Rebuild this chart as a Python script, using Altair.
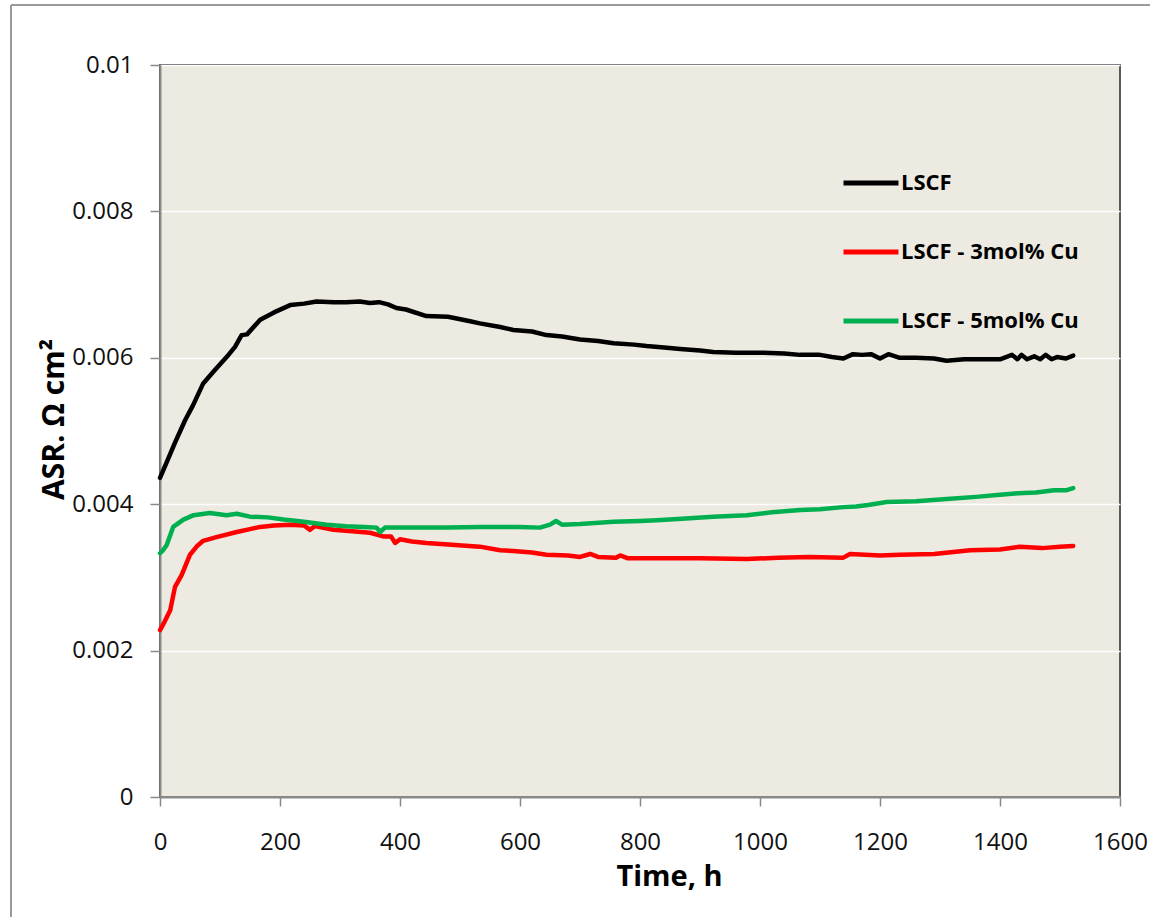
import altair as alt
import pandas as pd

# ---- data ----
series_names = ["LSCF", "LSCF - 3mol% Cu", "LSCF - 5mol% Cu"]
series_colors = ["#000000", "#FF0000", "#00B050"]

t_lscf = [0, 10, 25, 42, 55, 72, 90, 111, 125, 136, 145, 167, 190, 217, 240, 261, 290, 310,
          333, 350, 365, 380, 394, 410, 444, 480, 517, 533, 567, 589, 620, 644, 670, 700, 730,
          756, 790, 811, 840, 867, 900, 922, 960, 1006, 1040, 1067, 1100, 1120, 1139, 1155,
          1170, 1185, 1200, 1214, 1233, 1260, 1290, 1311, 1340, 1370, 1400, 1420, 1429, 1436,
          1445, 1457, 1467, 1476, 1486, 1495, 1510, 1522]
asr_lscf = [4.36, 4.55, 4.84, 5.15, 5.35, 5.65, 5.82, 6.01, 6.15, 6.31, 6.32, 6.52, 6.62, 6.72,
            6.74, 6.77, 6.76, 6.76, 6.77, 6.75, 6.76, 6.73, 6.68, 6.66, 6.57, 6.56, 6.50, 6.47,
            6.42, 6.38, 6.36, 6.31, 6.29, 6.25, 6.23, 6.20, 6.18, 6.16, 6.14, 6.12, 6.10, 6.08,
            6.07, 6.07, 6.06, 6.04, 6.04, 6.01, 5.99, 6.05, 6.04, 6.05, 5.99, 6.05, 6.00, 6.00,
            5.99, 5.96, 5.98, 5.98, 5.98, 6.04, 5.98, 6.04, 5.98, 6.02, 5.98, 6.04, 5.98, 6.01,
            5.99, 6.03]

t_cu3 = [0, 8, 17, 25, 36, 50, 62, 72, 94, 128, 150, 167, 190, 217, 240, 250, 258, 289, 320,
         350, 372, 385, 392, 400, 420, 444, 480, 533, 567, 589, 620, 644, 680, 700, 717, 730,
         760, 767, 780, 839, 900, 978, 1030, 1083, 1139, 1150, 1200, 1233, 1290, 1350, 1400,
         1433, 1470, 1500, 1522]
asr_cu3 = [2.28, 2.40, 2.55, 2.87, 3.03, 3.31, 3.43, 3.50, 3.55, 3.62, 3.66, 3.69, 3.71, 3.72,
           3.71, 3.65, 3.70, 3.65, 3.63, 3.61, 3.56, 3.56, 3.47, 3.52, 3.49, 3.47, 3.45, 3.42,
           3.37, 3.36, 3.34, 3.31, 3.30, 3.28, 3.32, 3.28, 3.27, 3.30, 3.26, 3.26, 3.26, 3.25,
           3.27, 3.28, 3.27, 3.32, 3.30, 3.31, 3.32, 3.37, 3.38, 3.42, 3.40, 3.42, 3.43]

t_cu5 = [0, 5, 11, 22, 39, 56, 83, 111, 128, 150, 180, 206, 240, 278, 310, 340, 361, 367, 375,
         400, 428, 480, 533, 567, 600, 633, 650, 660, 670, 700, 756, 800, 828, 870, 922, 978,
         1020, 1067, 1100, 1139, 1160, 1180, 1211, 1260, 1311, 1360, 1400, 1430, 1460, 1490,
         1510, 1522]
asr_cu5 = [3.33, 3.37, 3.44, 3.69, 3.79, 3.85, 3.88, 3.85, 3.87, 3.83, 3.82, 3.79, 3.76, 3.72,
           3.70, 3.69, 3.68, 3.62, 3.68, 3.68, 3.68, 3.68, 3.69, 3.69, 3.69, 3.68, 3.72, 3.77,
           3.72, 3.73, 3.76, 3.77, 3.78, 3.80, 3.83, 3.85, 3.89, 3.92, 3.93, 3.96, 3.97, 3.99,
           4.03, 4.04, 4.07, 4.10, 4.13, 4.15, 4.16, 4.19, 4.19, 4.22]

x_ticks = [0, 200, 400, 600, 800, 1000, 1200, 1400, 1600]
y_ticks = [0, 0.002, 0.004, 0.006, 0.008, 0.01]

rows = []
for name, ts, vs in zip(series_names, [t_lscf, t_cu3, t_cu5], [asr_lscf, asr_cu3, asr_cu5]):
    for i, (t, v) in enumerate(zip(ts, vs)):
        rows.append({"series": name, "time": t, "asr": v / 1000.0, "order": i})
df = pd.DataFrame(rows)

FONT = "Open Sans"

lines = alt.Chart(df).mark_line(strokeWidth=4.5, strokeJoin="round", strokeCap="round").encode(
    x=alt.X("time:Q",
            scale=alt.Scale(domain=[0, 1600], nice=False),
            axis=alt.Axis(values=x_ticks, format="d", title="Time, h", grid=False,
                          titleX=509, titleY=88, titleAnchor=None, titleAlign="center",
                          titleBaseline="alphabetic", labelFlush=False,
                          labelPadding=24, tickSize=9)),
    y=alt.Y("asr:Q",
            scale=alt.Scale(domain=[0, 0.01], nice=False),
            axis=alt.Axis(values=y_ticks, format="~g", title="ASR. Ω cm²", grid=True,
                          titleX=-97, titleY=354, titleAngle=-90, titleAlign="center",
                          titleBaseline="alphabetic", titleFontSize=30, labelFlush=False,
                          labelPadding=17, tickSize=10)),
    color=alt.Color("series:N",
                    scale=alt.Scale(domain=series_names, range=series_colors),
                    legend=alt.Legend(title=None, orient="none", legendX=681, legendY=88,
                                      symbolType="stroke", symbolSize=3025,
                                      symbolStrokeWidth=5, labelOffset=0, rowPadding=28,
                                      labelFont=FONT, labelFontSize=22, labelFontWeight="bold",
                                      labelColor="#000000", labelLimit=400)),
    order="order:Q",
)

one = alt.Data(values=[{"k": 1}])
border_top = alt.Chart(one).mark_rule(color="#9a9a9a", strokeWidth=2).encode(
    x=alt.value(-149), x2=alt.value(1000), y=alt.value(-60))
border_left = alt.Chart(one).mark_rule(color="#9a9a9a", strokeWidth=2).encode(
    x=alt.value(-149), y=alt.value(-60), y2=alt.value(860))

chart = alt.layer(border_top, border_left, lines).properties(
    width=960, height=732,
    autosize=alt.AutoSizeParams(type="none"),
    padding={"left": 160, "top": 65, "right": 30, "bottom": 120},
    background="#ffffff",
).configure_view(
    fill="#ECEAE1", stroke="#5a5a5a", strokeWidth=2,
).configure_axis(
    labelFont=FONT, labelFontSize=24, labelColor="#111111",
    titleFont=FONT, titleFontSize=29, titleFontWeight="bold", titleColor="#000000",
    domainColor="#8a8a8a", domainWidth=2, tickColor="#8a8a8a", tickWidth=1.5,
    gridColor="#ffffff", gridWidth=1.5,
)

chart.save("out.html", embed_options={"renderer": "svg", "actions": False})
